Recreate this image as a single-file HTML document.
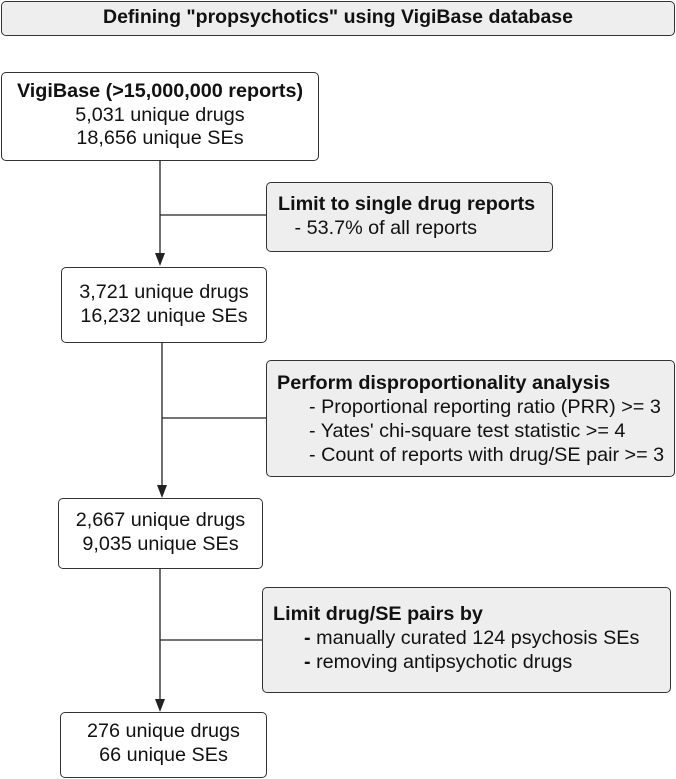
<!DOCTYPE html>
<html><head><meta charset="utf-8"><style>
body{margin:0;width:676px;height:779px;background:#fff;position:relative;overflow:hidden;font-family:"Liberation Sans",Arial,sans-serif;color:#111;}
.b{position:absolute;box-sizing:border-box;border:1.3px solid #333;border-radius:5px;background:#fff;}
.g{background:#eeeeee;}
.t{position:absolute;font-size:19.8px;line-height:23.7px;white-space:nowrap;}
.c{text-align:center;left:0;right:0;}
b{font-weight:bold;}
svg{position:absolute;left:0;top:0;}
</style></head><body>
<svg width="676" height="779">
<g stroke="#222" stroke-width="1.3" fill="none">
<line x1="160" y1="160" x2="160" y2="254"/><line x1="160" y1="215" x2="266" y2="215"/>
<line x1="162" y1="342" x2="162" y2="486"/><line x1="162" y1="418" x2="266" y2="418"/>
<line x1="160" y1="568" x2="160" y2="700"/><line x1="160" y1="640" x2="262" y2="640"/>
</g>
<g fill="#222">
<polygon points="155,253 165,253 160,266"/>
<polygon points="157,485 167,485 162,498"/>
<polygon points="155,699 165,699 160,712"/>
</g>
</svg>
<div class="b g" style="left:1px;top:1px;width:674px;height:35px;"><div class="t c" style="top:4px;font-size:19.5px;"><b>Defining "propsychotics" using VigiBase database</b></div></div>
<div class="b" style="left:1px;top:72px;width:318px;height:89px;"><div class="t c" style="top:7px;"><b>VigiBase (&gt;15,000,000 reports)</b><br>5,031 unique drugs<br>18,656 unique SEs</div></div>
<div class="b g" style="left:266px;top:182px;width:287px;height:70px;"><div class="t" style="left:11px;top:10px;"><b>Limit to single drug reports</b><br>&nbsp;&nbsp;&nbsp;- 53.7% of all reports</div></div>
<div class="b" style="left:61px;top:267px;width:206px;height:76px;"><div class="t c" style="top:13px;">3,721 unique drugs<br>16,232 unique SEs</div></div>
<div class="b g" style="left:266px;top:360px;width:409px;height:117px;"><div class="t" style="left:10px;top:10px;line-height:24px;"><b>Perform disproportionality analysis</b><br><span style="padding-left:32px">- Proportional reporting ratio (PRR) &gt;= 3</span><br><span style="padding-left:32px">- Yates' chi-square test statistic &gt;= 4</span><br><span style="padding-left:32px">- Count of reports with drug/SE pair &gt;= 3</span></div></div>
<div class="b" style="left:58px;top:498px;width:205px;height:71px;"><div class="t c" style="top:10px;">2,667 unique drugs<br>9,035 unique SEs</div></div>
<div class="b g" style="left:262px;top:587px;width:409px;height:106px;"><div class="t" style="left:10px;top:14px;line-height:24px;"><b>Limit drug/SE pairs by</b><br><span style="padding-left:31px"><b>-</b> manually curated 124 psychosis SEs</span><br><span style="padding-left:31px"><b>-</b> removing antipsychotic drugs</span></div></div>
<div class="b" style="left:60px;top:712px;width:207px;height:66px;"><div class="t c" style="top:7px;">276 unique drugs<br>66 unique SEs</div></div>
</body></html>
